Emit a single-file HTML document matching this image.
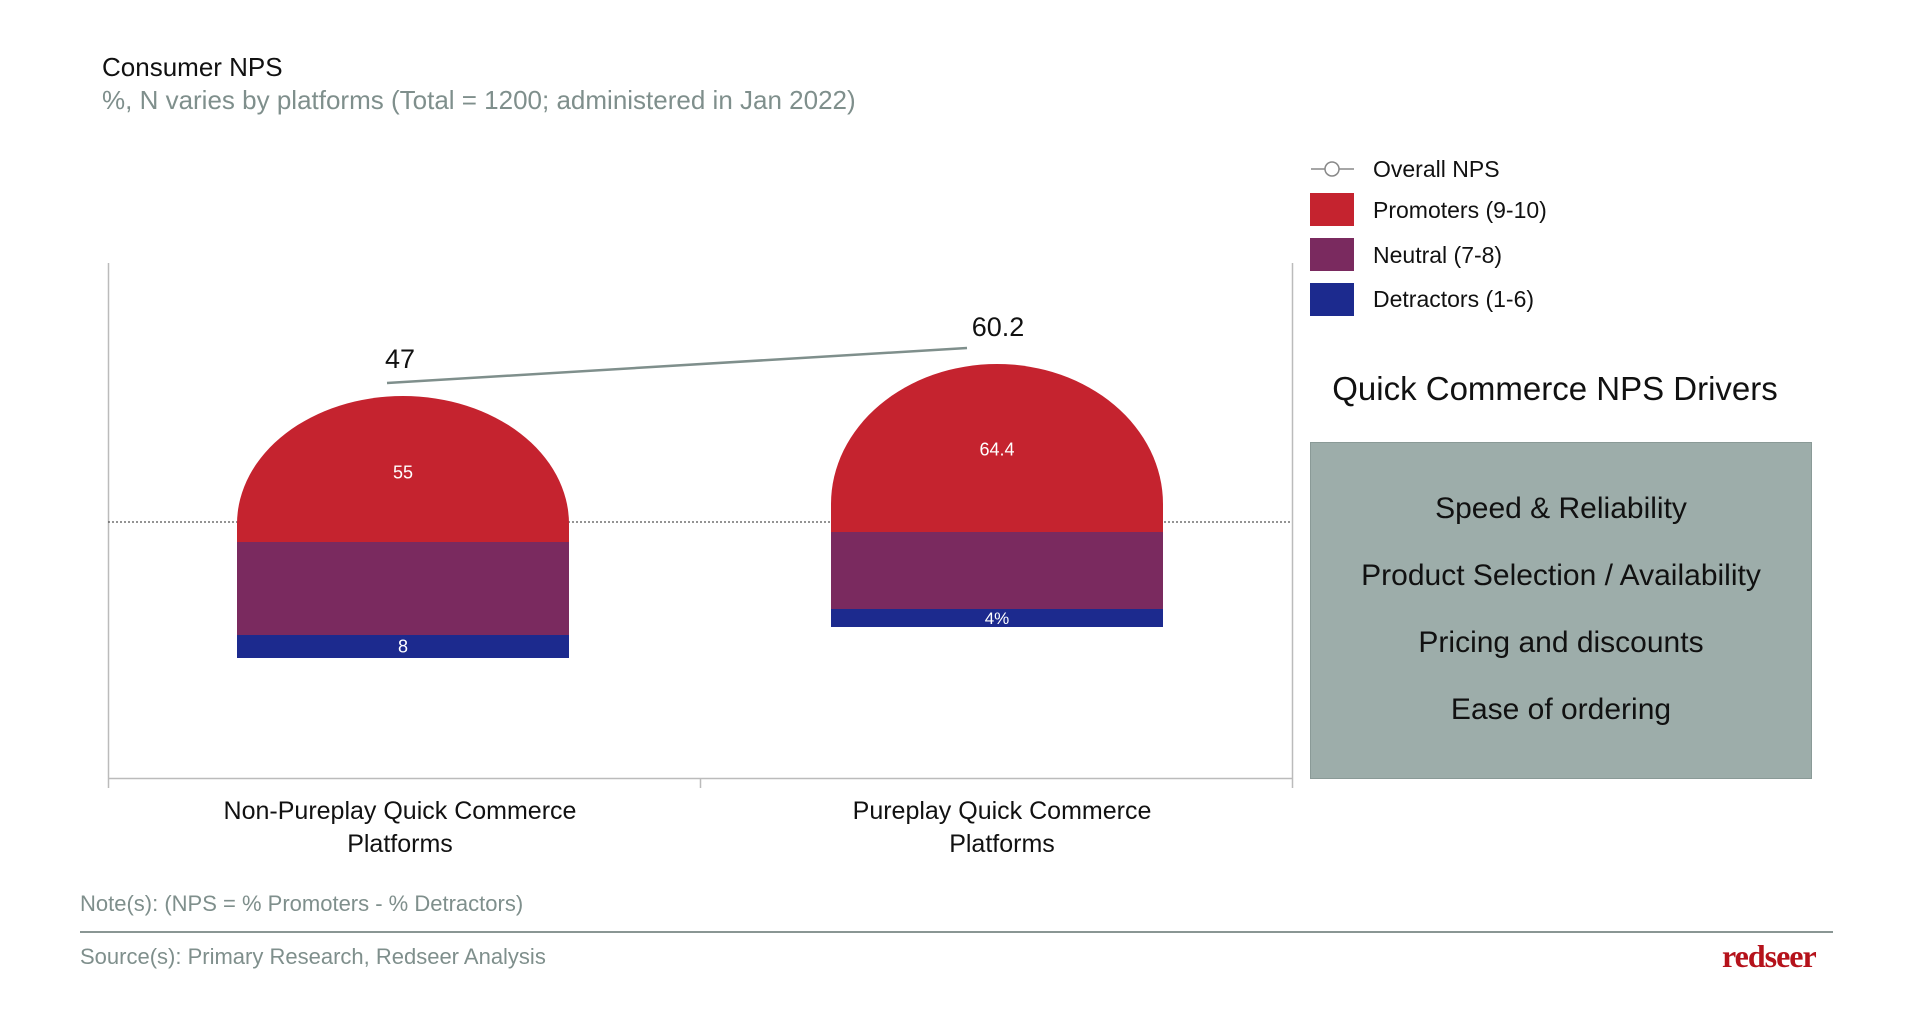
<!DOCTYPE html>
<html><head><meta charset="utf-8"><style>
body{margin:0;width:1920px;height:1025px;background:#fff;position:relative;overflow:hidden;font-family:"Liberation Sans",sans-serif;}
.a{position:absolute;white-space:nowrap;}
.c{transform:translateX(-50%);text-align:center;}
.bar{position:absolute;}
.lab{position:absolute;color:#fff;font-size:18px;transform:translate(-50%,-50%);}
</style></head><body>
<div class="a" style="left:102px;top:52px;font-size:26px;color:#111;">Consumer NPS</div>
<div class="a" style="left:102px;top:85px;font-size:26px;color:#7f8f8c;">%, N varies by platforms (Total = 1200; administered in Jan 2022)</div>

<svg class="a" style="left:0;top:0" width="1920" height="1025">
<line x1="108.5" y1="263" x2="108.5" y2="788" stroke="#bbb" stroke-width="1.5"/>
<line x1="1292.5" y1="263" x2="1292.5" y2="788" stroke="#bbb" stroke-width="1.5"/>
<line x1="108" y1="778.5" x2="1292" y2="778.5" stroke="#bbb" stroke-width="1.5"/>
<line x1="700.5" y1="778" x2="700.5" y2="788" stroke="#bbb" stroke-width="1.5"/>
<line x1="108" y1="522" x2="1292" y2="522" stroke="#555" stroke-width="1.2" stroke-dasharray="2,2"/>
</svg>

<div class="bar" style="left:237px;top:396px;width:332px;height:147px;background:#c5232f;border-radius:166px 166px 0 0/128px 128px 0 0;"></div>
<div class="bar" style="left:237px;top:542px;width:332px;height:94px;background:#7a2a5f;"></div>
<div class="bar" style="left:237px;top:635px;width:332px;height:23px;background:#1c2a8e;"></div>
<div class="lab" style="left:403px;top:473px;">55</div>
<div class="lab" style="left:403px;top:647px;">8</div>

<div class="bar" style="left:831px;top:364px;width:332px;height:169px;background:#c5232f;border-radius:166px 166px 0 0/140px 140px 0 0;"></div>
<div class="bar" style="left:831px;top:532px;width:332px;height:78px;background:#7a2a5f;"></div>
<div class="bar" style="left:831px;top:609px;width:332px;height:18px;background:#1c2a8e;"></div>
<div class="lab" style="left:997px;top:450px;">64.4</div>
<div class="lab" style="left:997px;top:619px;font-size:17px;">4%</div>

<svg class="a" style="left:0;top:0" width="1920" height="1025">
<line x1="387" y1="383" x2="967" y2="348" stroke="#7f8f8c" stroke-width="2.5"/>
</svg>
<div class="a c" style="left:400px;top:344px;font-size:27px;color:#111;">47</div>
<div class="a c" style="left:998px;top:312px;font-size:27px;color:#111;">60.2</div>

<div class="a c" style="left:400px;top:795px;font-size:25px;color:#111;line-height:33px;">Non-Pureplay Quick Commerce<br>Platforms</div>
<div class="a c" style="left:1002px;top:795px;font-size:25px;color:#111;line-height:33px;">Pureplay Quick Commerce<br>Platforms</div>

<svg class="a" style="left:1310px;top:159px" width="46" height="20">
<line x1="1" y1="10" x2="44" y2="10" stroke="#888" stroke-width="1.5"/>
<circle cx="22" cy="10" r="7" fill="#fff" stroke="#888" stroke-width="1.5"/>
</svg>
<div class="a" style="left:1373px;top:156px;font-size:23px;color:#111;">Overall NPS</div>
<div class="a" style="left:1310px;top:193px;width:44px;height:33px;background:#c5232f;"></div>
<div class="a" style="left:1373px;top:197px;font-size:23px;color:#111;">Promoters (9-10)</div>
<div class="a" style="left:1310px;top:238px;width:44px;height:33px;background:#7a2a5f;"></div>
<div class="a" style="left:1373px;top:242px;font-size:23px;color:#111;">Neutral (7-8)</div>
<div class="a" style="left:1310px;top:283px;width:44px;height:33px;background:#1c2a8e;"></div>
<div class="a" style="left:1373px;top:286px;font-size:23px;color:#111;">Detractors (1-6)</div>

<div class="a c" style="left:1555px;top:370px;font-size:33px;color:#111;">Quick Commerce NPS Drivers</div>
<div class="a" style="left:1310px;top:442px;width:502px;height:337px;background:#9dadaa;border:1px solid #8a9a97;box-sizing:border-box;"></div>
<div class="a c" style="left:1561px;top:492px;font-size:30px;color:#111;">Speed &amp; Reliability</div>
<div class="a c" style="left:1561px;top:559px;font-size:30px;color:#111;">Product Selection / Availability</div>
<div class="a c" style="left:1561px;top:626px;font-size:30px;color:#111;">Pricing and discounts</div>
<div class="a c" style="left:1561px;top:693px;font-size:30px;color:#111;">Ease of ordering</div>

<div class="a" style="left:80px;top:891px;font-size:22px;color:#7f8f8c;">Note(s): (NPS = % Promoters - % Detractors)</div>
<div class="a" style="left:80px;top:931px;width:1753px;height:2px;background:#8a9694;"></div>
<div class="a" style="left:80px;top:944px;font-size:22px;color:#7f8f8c;">Source(s): Primary Research, Redseer Analysis</div>
<div class="a" style="left:1722px;top:938px;font-size:32px;font-weight:bold;color:#b5121b;font-family:'Liberation Serif',serif;letter-spacing:-1px;">redseer</div>
</body></html>
